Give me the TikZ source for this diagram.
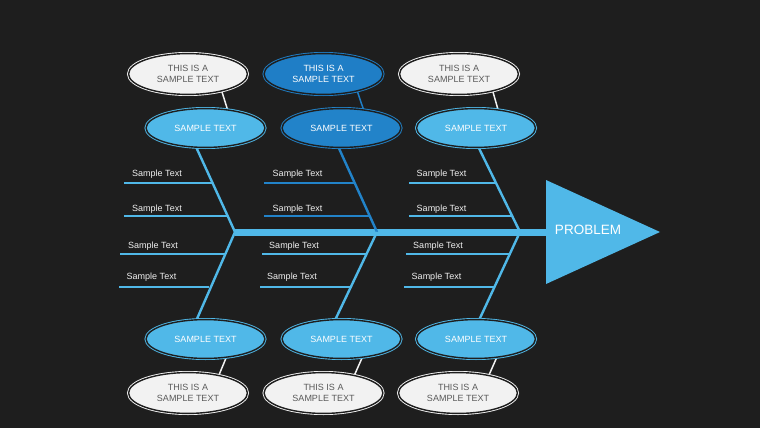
\documentclass[tikz,border=0pt]{standalone}
\usepackage{fontspec}
\setmainfont{Liberation Sans}
\usetikzlibrary{shapes.geometric}
\definecolor{bgc}{HTML}{1E1E1E}
\definecolor{lblue}{HTML}{50B8E8}
\definecolor{dblue}{HTML}{2283C9}
\definecolor{dblueo}{HTML}{1F7EC6}
\definecolor{wfill}{HTML}{F2F2F2}
\definecolor{gtext}{HTML}{595959}
\definecolor{ltext}{HTML}{F0F0F0}
\pgfdeclarelayer{bglayer}
\pgfdeclarelayer{linelayer}
\pgfsetlayers{bglayer,linelayer,main}
\tikzset{
  ring/.style={ellipse, draw=#1, fill=#1, double=bgc, double distance=1.4pt, line width=0.9pt, inner sep=0pt},
  inell/.style={ring=#1, minimum width=118.8pt, minimum height=38.8pt, text=white, font=\fontsize{9}{11}\selectfont},
  outell/.style={ring=#1, minimum width=118.8pt, minimum height=40.8pt, align=center, font=\fontsize{9}{11}\selectfont},
  bone/.style={draw=#1, line width=2.4pt},
  rib/.style={draw=#1, line width=1.6pt},
  link/.style={draw=#1, line width=1.5pt},
  lab/.style={text=ltext, font=\fontsize{9}{11}\selectfont, inner sep=0pt},
}
\begin{document}
\begin{tikzpicture}[x=1pt,y=-1pt]
\useasboundingbox (0,0) rectangle (760,428);
\begin{pgfonlayer}{bglayer}
\fill[bgc] (0,0) rectangle (760,428);
\end{pgfonlayer}

% inner ellipses
\node[inell=lblue] (i1) at (205.5,128) {SAMPLE TEXT};
\node[inell=dblue] (i2) at (341.5,128) {SAMPLE TEXT};
\node[inell=lblue] (i3) at (476,128) {SAMPLE TEXT};
\node[inell=lblue] (i4) at (205.5,339) {SAMPLE TEXT};
\node[inell=lblue] (i5) at (341.5,339) {SAMPLE TEXT};
\node[inell=lblue] (i6) at (476,339) {SAMPLE TEXT};

% outer ellipses
\node[outell=wfill, text=gtext] (o1) at (188,74) {THIS IS A\\SAMPLE TEXT};
\node[outell=dblueo, text=white] (o2) at (323.5,74) {THIS IS A\\SAMPLE TEXT};
\node[outell=wfill, text=gtext] (o3) at (459,74) {THIS IS A\\SAMPLE TEXT};
\node[outell=wfill, text=gtext] (o4) at (188,393) {THIS IS A\\SAMPLE TEXT};
\node[outell=wfill, text=gtext] (o5) at (323.5,393) {THIS IS A\\SAMPLE TEXT};
\node[outell=wfill, text=gtext] (o6) at (458,393) {THIS IS A\\SAMPLE TEXT};

% head
\coordinate (ht) at (546,180);
\coordinate (hb) at (546,284);
\coordinate (hp) at (660,232);
\coordinate (hw) at (548,232);
\fill[lblue] (ht) -- (hp) -- (hb) -- cycle;
\node[text=white, font=\fontsize{13.5}{15}\selectfont, inner sep=0pt] (problem) at (588,230) {PROBLEM};

% spine junctions
\coordinate (jL) at (235,232);
\coordinate (jM) at (377,232);
\coordinate (jR) at (520,232);

% rib free ends
\coordinate (a1) at (124,183);  \coordinate (a1e) at (212.6,183);
\coordinate (a2) at (124,216);  \coordinate (a2e) at (228,216);
\coordinate (a3) at (120,254);  \coordinate (a3e) at (224.5,254);
\coordinate (a4) at (119,287);  \coordinate (a4e) at (209,287);
\coordinate (b1) at (264,183);  \coordinate (b1e) at (354,183);
\coordinate (b2) at (264,216);  \coordinate (b2e) at (369.4,216);
\coordinate (b3) at (262,254);  \coordinate (b3e) at (366.3,254);
\coordinate (b4) at (260,287);  \coordinate (b4e) at (350.1,287);
\coordinate (c1) at (409,183);  \coordinate (c1e) at (495.5,183);
\coordinate (c2) at (409,216);  \coordinate (c2e) at (512,216);
\coordinate (c3) at (406,254);  \coordinate (c3e) at (509.7,254);
\coordinate (c4) at (404,287);  \coordinate (c4e) at (494.2,287);

\begin{pgfonlayer}{linelayer}
% connectors outer-inner
\draw[link=wfill] (o1.-27) -- (i1.40);
\draw[link=dblueo] (o2.-27) -- (i2.40);
\draw[link=wfill] (o3.-27) -- (i3.40);
\draw[link=wfill] (i4.-42) -- (o4.30);
\draw[link=wfill] (i5.-42) -- (o5.30);
\draw[link=wfill] (i6.-42) -- (o6.30);
% spine
\draw[lblue, line width=7pt] (jL) -- (hw);
% bones
\draw[bone=lblue] (i1.-115) -- (jL);
\draw[bone=dblue] (i2.-98) -- (jM);
\draw[bone=lblue] (i3.-82) -- (jR);
\draw[bone=lblue] (jL) -- (i4.114);
\draw[bone=lblue] (jM) -- (i5.107);
\draw[bone=lblue] (jR) -- (i6.80);
% ribs
\draw[rib=lblue] (a1) -- (a1e);
\draw[rib=lblue] (a2) -- (a2e);
\draw[rib=lblue] (a3) -- (a3e);
\draw[rib=lblue] (a4) -- (a4e);
\draw[rib=dblue] (b1) -- (b1e);
\draw[rib=dblue] (b2) -- (b2e);
\draw[rib=lblue] (b3) -- (b3e);
\draw[rib=lblue] (b4) -- (b4e);
\draw[rib=lblue] (c1) -- (c1e);
\draw[rib=lblue] (c2) -- (c2e);
\draw[rib=lblue] (c3) -- (c3e);
\draw[rib=lblue] (c4) -- (c4e);
\end{pgfonlayer}

% labels
\node[lab] (la1) at (157,174) {Sample Text};
\node[lab] (la2) at (157,209) {Sample Text};
\node[lab] (la3) at (153,246.5) {Sample Text};
\node[lab] (la4) at (151.5,277) {Sample Text};
\node[lab] (lb1) at (297.5,174) {Sample Text};
\node[lab] (lb2) at (297.5,209) {Sample Text};
\node[lab] (lb3) at (294,246.5) {Sample Text};
\node[lab] (lb4) at (292,277) {Sample Text};
\node[lab] (lc1) at (441.5,174) {Sample Text};
\node[lab] (lc2) at (441.5,209) {Sample Text};
\node[lab] (lc3) at (438,246.5) {Sample Text};
\node[lab] (lc4) at (436.5,277) {Sample Text};
\end{tikzpicture}
\end{document}
